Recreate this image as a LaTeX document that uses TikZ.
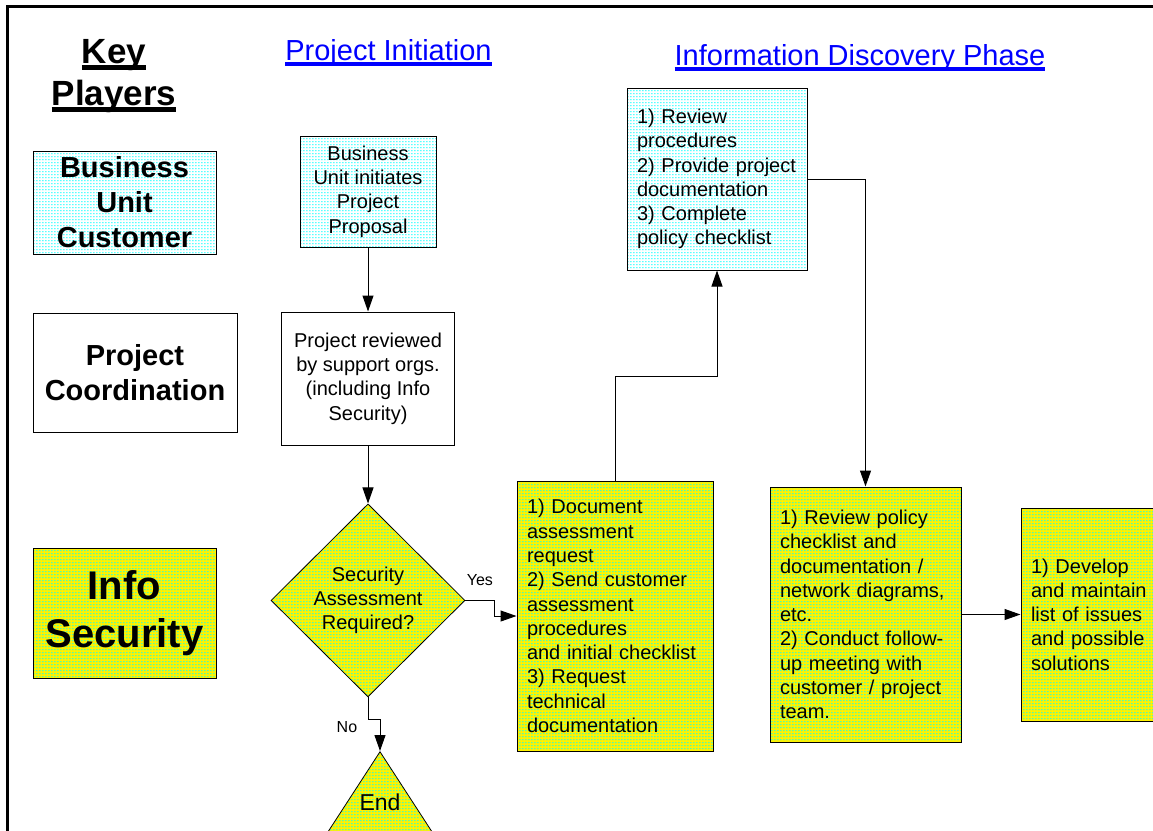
\documentclass[tikz,border=0pt]{standalone}
\usepackage{fontspec}
\setmainfont{Liberation Sans}
\usepackage{tikz}
\usetikzlibrary{arrows.meta,positioning,shapes.geometric,patterns}

\newcommand{\fsize}[2]{\fontsize{#1}{#2}\selectfont}
\newlength{\ulw}
% underline: #1 thickness, #2 text
\newcommand{\ulined}[2]{\settowidth{\ulw}{#2}\rlap{\rule[\dimexpr-2pt-#1\relax]{\ulw}{#1}}#2}
% rows of short dashes, as in the fill texture
\pgfdeclarepatternformonly{dashrows}{\pgfqpoint{0pt}{0pt}}{\pgfqpoint{3pt}{3pt}}{\pgfqpoint{3pt}{3pt}}{%
  \pgfpathrectangle{\pgfqpoint{0pt}{1pt}}{\pgfqpoint{2pt}{1pt}}\pgfusepath{fill}}

\begin{document}
\begin{tikzpicture}[x=1pt, y=-1pt, node distance=10pt,
  line/.style={draw, line width=1pt, -{Triangle[length=16pt,width=11pt]}},
  block/.style={rectangle, draw, line width=1pt, inner sep=0pt, align=center, font=\fsize{20}{24.3}},
  listbox/.style={block, align=left, inner xsep=10pt},
  decision/.style={diamond, draw, line width=.8pt, inner sep=0pt, aspect=1, minimum width=194pt, minimum height=193pt, align=center, font=\fsize{20}{24.3}},
  cyanfill/.style={preaction={fill=white}, pattern=dashrows, pattern color=cyan},
  yellowfill/.style={preaction={fill=yellow}, pattern=dashrows, pattern color=cyan},
  player/.style={block, font=\bfseries\fsize{29}{35}},
  title/.style={text=blue, font=\fsize{29}{35}, anchor=base},
  lbl/.style={font=\fsize{16}{19}}]
\useasboundingbox (0,0) rectangle (1153,830);
\clip (0,0) rectangle (1153,830);
\draw[line width=3pt] (7,840) -- (7,6.5) -- (1160,6.5);
% key players column
\node[font=\bfseries\fsize{35}{42}, align=center] (keyp) at (114,76) {\ulined{5pt}{Key}\\\ulined{5pt}{Players}};
\node[player, cyanfill, minimum width=183pt, minimum height=103pt] (buc) at (124.5,202.5) {Business\\Unit\\Customer};
\node[player, minimum width=204pt, minimum height=119pt] (pc) at (135,372.5) {Project\\Coordination};
\node[player, yellowfill, font=\bfseries\fsize{40}{48}, minimum width=183pt, minimum height=130pt] (isec) at (124.5,613) {Info\\Security};
% phase titles
\node[title] (init) at (388.5,60) {\ulined{4pt}{Project Initiation}};
\node[title] (disc) at (860,65) {\ulined{4pt}{Information Discovery Phase}};
% project initiation
\node[block, cyanfill, minimum width=136pt, minimum height=111pt] (prop) at (368,191.5) {Business\\Unit initiates\\Project\\Proposal};
\node[block, minimum width=173pt, minimum height=133pt, below=64pt of prop] (rev) {Project reviewed\\by support orgs.\\(including Info\\Security)};
\node[decision, yellowfill, below=58pt of rev] (dia) {Security\\Assessment\\Required?};
\node[isosceles triangle, shape border rotate=90, isosceles triangle apex angle=66, minimum height=130pt, anchor=apex, draw, line width=.8pt, yellowfill, inner sep=0pt] (endtri) at (380,751) {};
\node[font=\fsize{23}{28}] (endtxt) at (380,802) {End};
% information discovery
\node[listbox, yellowfill, text width=176pt, minimum height=270pt] (doc) at (615,616) {1) Document\\assessment\\request\\2) Send customer\\assessment\\procedures\\and initial checklist\\3) Request\\technical\\documentation};
\node[listbox, cyanfill, text width=160pt, minimum height=182pt] (review) at (717,179) {1) Review\\procedures\\2) Provide project\\documentation\\3) Complete\\policy checklist};
\node[listbox, yellowfill, text width=171pt, minimum height=255pt] (rpol) at (865.5,614.5) {1) Review policy\\checklist and\\documentation /\\network diagrams,\\etc.\\2) Conduct follow-\\up meeting with\\customer / project\\team.};
\node[listbox, yellowfill, text width=130pt, minimum height=213pt, right=59pt of rpol] (dev) {1) Develop\\and maintain\\list of issues\\and possible\\solutions};
% connectors
\draw[line] (prop) -- (rev);
\draw[line] (rev) -- (dia);
\draw[line] (dia.east) -- node[above=11pt, lbl]{Yes} ++(29,0) |- (doc.west);
\draw[line] (dia.south) -- ++(0,22) node[anchor=base east, xshift=-7pt, yshift=-13pt, lbl]{No} -| (endtri.apex);
\draw[line] (doc.north) -- ++(0,-104) -| (review.south);
\draw[line] (review.east) -| (rpol.north);
\draw[line] (rpol.east) -- (rpol.east -| dev.west);
\end{tikzpicture}
\end{document}
